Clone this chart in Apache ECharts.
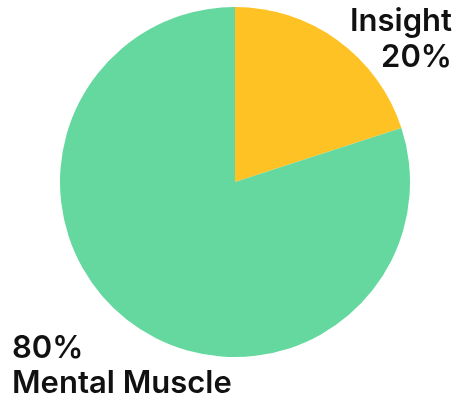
<!DOCTYPE html>
<html><head><meta charset="utf-8">
<script src="https://cdn.jsdelivr.net/npm/echarts@6/dist/echarts.min.js"></script>
<style>html,body{margin:0;padding:0;background:#fff}#c{width:457px;height:402px}</style>
</head><body><div id="c"></div>
<script>
const categories = ['Insight', 'Mental Muscle'];
const values = [20, 80];
const colors = ['#FFC224', '#64D89E'];

const chart = echarts.init(document.getElementById('c'));
const font = '600 31px Inter, "Noto Sans", sans-serif';
function txt(s, pos) {
  return Object.assign({ type: 'text', style: { text: s, font: font, lineHeight: 31, fill: '#111' } }, pos);
}
chart.setOption({
  animation: false,
  series: [{
    type: 'pie',
    center: [235, 182],
    radius: 175,
    startAngle: 90,
    clockwise: true,
    label: { show: false },
    labelLine: { show: false },
    itemStyle: { borderWidth: 0 },
    data: categories.map((c, i) => ({ name: c, value: values[i], itemStyle: { color: colors[i] } }))
  }],
  graphic: [
    txt(categories[0], { right: 5, top: 6 }),
    txt(values[0] + '%', { right: 5, top: 42 }),
    txt(values[1] + '%', { left: 12, top: 333 }),
    txt(categories[1], { left: 12, top: 368 })
  ]
});
</script></body></html>
